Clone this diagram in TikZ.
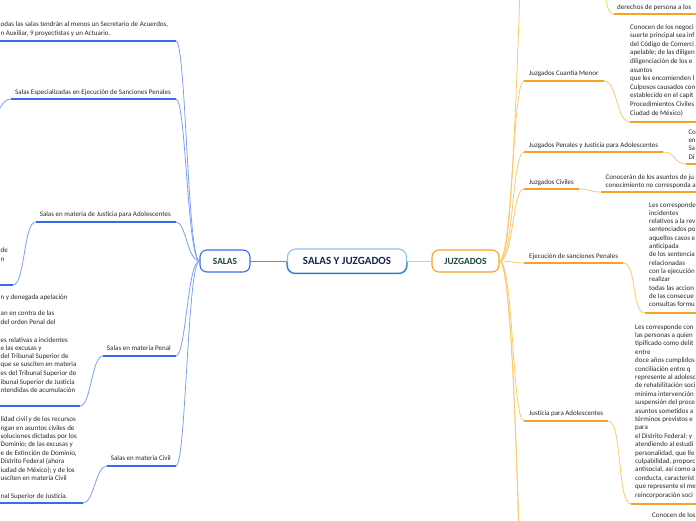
\documentclass[tikz,border=0pt]{standalone}
\usepackage{fontspec}
\setmainfont{Carlito}
\usetikzlibrary{calc}
\definecolor{bul}{RGB}{58,106,240}
\definecolor{bcn}{RGB}{125,158,246}
\definecolor{oul}{RGB}{248,163,32}
\definecolor{ocn}{RGB}{252,200,110}
\definecolor{txtc}{RGB}{40,40,40}
\definecolor{dgreen}{RGB}{24,72,48}
\definecolor{navy}{RGB}{22,36,84}
\definecolor{rootlight}{RGB}{140,195,236}
\definecolor{rootdark}{RGB}{50,120,190}
\tikzset{
 txt/.style={font=\fontsize{7}{8.4}\selectfont, text=txtc, inner sep=0pt},
 bul/.style={draw=bul, line width=1.8pt},
 bcn/.style={draw=bcn, line width=0.8pt},
 oul/.style={draw=oul, line width=1.8pt},
 ocn/.style={draw=ocn, line width=0.8pt},
 mainbox/.style={rounded corners=7pt, line width=1.1pt, inner sep=0pt, font=\bfseries\fontsize{9.4}{11}\selectfont, text=dgreen},
}
\begin{document}
\begin{tikzpicture}[x=1pt,y=-1pt]
\useasboundingbox (0,0) rectangle (696,520);
\clip (0,0) rectangle (696,520);

% ---------- main nodes ----------
\node[draw=rootlight, rounded corners=8pt, line width=1.1pt, minimum width=119pt, minimum height=24pt, inner sep=0pt,
      font=\bfseries\fontsize{11}{12}\selectfont, text=navy] (root) at (347,261) {SALAS Y JUZGADOS};
\begin{scope}
\clip (280,262) rectangle (415,280);
\draw[rootdark, rounded corners=8pt, line width=1.1pt] (root.north west) rectangle (root.south east);
\end{scope}
\node[mainbox, draw=bul, minimum width=50pt, minimum height=22pt] (salas) at (225,261) {SALAS};
\node[mainbox, draw=oul, minimum width=67pt, minimum height=22pt] (juz) at (465.5,261) {JUZGADOS};
\draw[bcn, draw=bul!80] (salas.east) -- (root.west);
\draw[ocn] (root.east) -- (juz.west);

% ---------- SALAS side ----------
% top block
\coordinate (s1L) at (-5,41);
\coordinate (s1R) at (176,41);
\node[txt, anchor=base west] (s1a) at (0.5,26) {odas las salas tendrán al menos un Secretario de Acuerdos,};
\node[txt, anchor=base west] (s1b) at (0.5,35) {n Auxiliar, 9 proyectistas y un Actuario.};
\draw[bul] (s1L) -- (s1R);
\draw[bcn] (s1R) .. controls +(10,0) and +(-12,0) .. (salas.west);

% Salas Especializadas
\node[txt, anchor=base east] (s2t) at (171,94) {Salas Especializadas en Ejecución de Sanciones Penales};
\coordinate (s2R) at (176,99);
\coordinate (s2L) at ($(s2t.west |- s2R)+(-4,0)$);
\coordinate (s2c) at (-6,135);
\draw[bul] (s2L) -- (s2R);
\draw[bcn] (s2R) .. controls +(10,0) and +(-12,0) .. (salas.west);
\draw[bcn] (s2L) .. controls +(-9,0) and +(0,-20) .. (s2c);

% Justicia para Adolescentes
\node[txt, anchor=base east] (s3t) at (171,216) {Salas en materia de Justicia para Adolescentes};
\coordinate (s3R) at (176,222);
\coordinate (s3L) at ($(s3t.west |- s3R)+(-4,0)$);
\coordinate (s3cR) at (13,285);
\coordinate (s3cL) at (-5,285);
\draw[bul] (s3L) -- (s3R);
\draw[bcn] (s3R) .. controls +(10,0) and +(-12,0) .. (salas.west);
\draw[bcn] (s3L) .. controls +(-12,0) and +(12,0) .. (s3cR);
\draw[bul] (s3cL) -- (s3cR);
\node[txt, anchor=base west] (s3x1) at (0.5,252) {de};
\node[txt, anchor=base west] (s3x2) at (0.5,261) {n};

% Penal
\node[txt, anchor=base east] (s4t) at (171,350) {Salas en materia Penal};
\coordinate (s4R) at (176,356);
\coordinate (s4L) at ($(s4t.west |- s4R)+(-4,0)$);
\coordinate (s4cR) at (80,406);
\coordinate (s4cL) at (-5,406);
\draw[bul] (s4L) -- (s4R);
\draw[bcn] (s4R) .. controls +(10,0) and +(-12,0) .. (salas.west);
\draw[bcn] (s4L) .. controls +(-11,0) and +(11,0) .. (s4cR);
\draw[bul] (s4cL) -- (s4cR);
\foreach \y/\t [count=\i] in {
 299/{n y denegada apelación},
 315/{an en contra de las},
 324/{del orden Penal del},
 342/{es relativas a incidentes},
 350/{e las excusas y},
 358/{del Tribunal Superior de},
 366/{que se susciten en materia},
 375/{es del Tribunal Superior de},
 384/{ibunal Superior de Justicia},
 392/{ntendidas de acumulación}}
 \node[txt, anchor=base west] (pc\i) at (0.5,\y) {\t};

% Civil
\node[txt, anchor=base east] (s5t) at (171,460) {Salas en materia Civil};
\coordinate (s5R) at (176,466);
\coordinate (s5L) at ($(s5t.west |- s5R)+(-4,0)$);
\coordinate (s5cR) at (83,503);
\coordinate (s5cL) at (-5,503);
\draw[bul] (s5L) -- (s5R);
\draw[bcn] (s5R) .. controls +(10,0) and +(-12,0) .. (salas.west);
\draw[bcn] (s5L) .. controls +(-11,0) and +(11,0) .. (s5cR);
\draw[bul] (s5cL) -- (s5cR);
\foreach \y/\t [count=\i] in {
 421/{lidad civil y de los recursos},
 430/{ngan en asuntos civiles de},
 438/{soluciones dictadas por los},
 446/{Dominio; de las excusas y},
 455/{e de Extinción de Dominio,},
 463/{Distrito Federal (ahora},
 472/{iudad de México); y de los},
 480/{usciten en materia Civil},
 498/{nal Superior de Justicia.}}
 \node[txt, anchor=base west] (cc\i) at (0.5,\y) {\t};

% ---------- JUZGADOS side ----------
% off-screen top branch and its child
\coordinate (r0) at (521,-30);
\draw[ocn] (juz.east) .. controls +(14,0) and +(-2,20) .. (r0);
\coordinate (t0a) at (604,-14);
\coordinate (t0L) at (614,14);
\coordinate (t0R) at (700,14);
\draw[ocn] (t0a) .. controls +(2,18) and +(-6,0) .. (t0L);
\draw[oul] (t0L) -- (t0R);
\node[txt, anchor=base west] (t0t) at (617,9) {derechos de persona a los};

% Juzgados Cuantía Menor
\node[txt, anchor=base west] (r1t) at (529,75) {Juzgados Cuantía Menor};
\coordinate (r1L) at (524,81);
\coordinate (r1R) at ($(r1t.east |- r1L)+(5,0)$);
\coordinate (r1cL) at (630,122);
\coordinate (r1cR) at (700,122);
\draw[oul] (r1L) -- (r1R);
\draw[ocn] (juz.east) .. controls +(14,0) and +(-12,0) .. (r1L);
\draw[ocn] (r1R) .. controls +(14,0) and +(-14,0) .. (r1cL);
\draw[oul] (r1cL) -- (r1cR);
\foreach \t [count=\i] in {
 {Conocen de los negoci},
 {suerte principal sea inf},
 {del Código de Comerci},
 {apelable; de las diligen},
 {diligenciación de los e},
 {asuntos},
 {que les encomienden l},
 {Culposos causados con},
 {establecido en el capít},
 {Procedimientos Civiles},
 {Ciudad de México)}}
 \node[txt, anchor=base west] (cm\i) at (630,{29+8.6*(\i-1)}) {\t};

% Juzgados Penales y Justicia para Adolescentes
\node[txt, anchor=base west] (r2t) at (529,147) {Juzgados Penales y Justicia para Adolescentes};
\coordinate (r2L) at (524,152);
\coordinate (r2R) at ($(r2t.east |- r2L)+(5,0)$);
\coordinate (r2cL) at (686,164);
\coordinate (r2cR) at (700,164);
\draw[oul] (r2L) -- (r2R);
\draw[ocn] (juz.east) .. controls +(14,0) and +(-12,0) .. (r2L);
\draw[ocn] (r2R) .. controls +(12,0) and +(-12,0) .. (r2cL);
\draw[oul] (r2cL) -- (r2cR);
\foreach \t/\y [count=\i] in {Co/134, en/142, Sa/150, Di/159}
 \node[txt, anchor=base west] (pj\i) at (688.3,\y) {\t};

% Juzgados Civiles
\node[txt, anchor=base west] (r3t) at (529,184) {Juzgados Civiles};
\coordinate (r3L) at (524,189);
\coordinate (r3R) at ($(r3t.east |- r3L)+(5,0)$);
\coordinate (r3cL) at (601,192);
\coordinate (r3cR) at (700,192);
\draw[oul] (r3L) -- (r3R);
\draw[ocn] (juz.east) .. controls +(14,0) and +(-12,0) .. (r3L);
\draw[ocn] (r3R) .. controls +(12,0) and +(-12,0) .. (r3cL);
\draw[oul] (r3cL) -- (r3cR);
\node[txt, anchor=base west] (jc1) at (605.5,179) {Conocerán de los asuntos de ju};
\node[txt, anchor=base west] (jc2) at (605.5,187) {conocimiento no corresponda a};

% Ejecución de sanciones Penales
\node[txt, anchor=base west] (r4t) at (529,258) {Ejecución de sanciones Penales};
\coordinate (r4L) at (524,263);
\coordinate (r4R) at ($(r4t.east |- r4L)+(5,0)$);
\coordinate (r4cL) at (645,313);
\coordinate (r4cR) at (700,313);
\draw[oul] (r4L) -- (r4R);
\draw[ocn] (juz.east) .. controls +(12,0) and +(-12,0) .. (r4L);
\draw[ocn] (r4R) .. controls +(14,0) and +(-14,0) .. (r4cL);
\draw[oul] (r4cL) -- (r4cR);
\foreach \t [count=\i] in {
 {Les corresponde},
 {incidentes},
 {relativos a la rev},
 {sentenciados po},
 {aquellos casos e},
 {anticipada},
 {de los sentencia},
 {relacionadas},
 {con la ejecución},
 {realizar},
 {todas las accion},
 {de las consecue},
 {consultas formu}}
 \node[txt, anchor=base west] (ep\i) at (649,{207+8.33*(\i-1)}) {\t};

% Justicia para Adolescentes
\node[txt, anchor=base west] (r5t) at (529,415) {Justicia para Adolescentes};
\coordinate (r5L) at (524,421);
\coordinate (r5R) at ($(r5t.east |- r5L)+(5,0)$);
\coordinate (r5cL) at (631,504);
\coordinate (r5cR) at (700,504);
\draw[oul] (r5L) -- (r5R);
\draw[ocn] (juz.east) .. controls +(14,0) and +(-12,0) .. (r5L);
\draw[ocn] (r5R) .. controls +(14,0) and +(-14,0) .. (r5cL);
\draw[oul] (r5cL) -- (r5cR);
\foreach \t [count=\i] in {
 {Les corresponde con},
 {las personas a quien},
 {tipificado como delit},
 {entre},
 {doce años cumplidos},
 {conciliación entre q},
 {represente al adolesc},
 {de rehabilitación soci},
 {mínima intervención},
 {suspensión del proce},
 {asuntos sometidos a},
 {términos previstos e},
 {para},
 {el Distrito Federal; y},
 {atendiendo al estudi},
 {personalidad, que lle},
 {culpabilidad, proporc},
 {antisocial, así como a},
 {conducta, característ},
 {que represente el me},
 {reincorporación soci}}
 \node[txt, anchor=base west] (ja\i) at (635,{329+8.4*(\i-1)}) {\t};

% off-screen bottom branches
\coordinate (r6) at (520,560);
\coordinate (r7) at (522,620);
\draw[ocn] (juz.east) .. controls +(14,0) and +(-2,-20) .. (r6);
\draw[ocn] (juz.east) .. controls +(15,0) and +(-2,-20) .. (r7);
\node[txt, anchor=base west] (bt) at (652,517) {Conocen de los};
\end{tikzpicture}
\end{document}
